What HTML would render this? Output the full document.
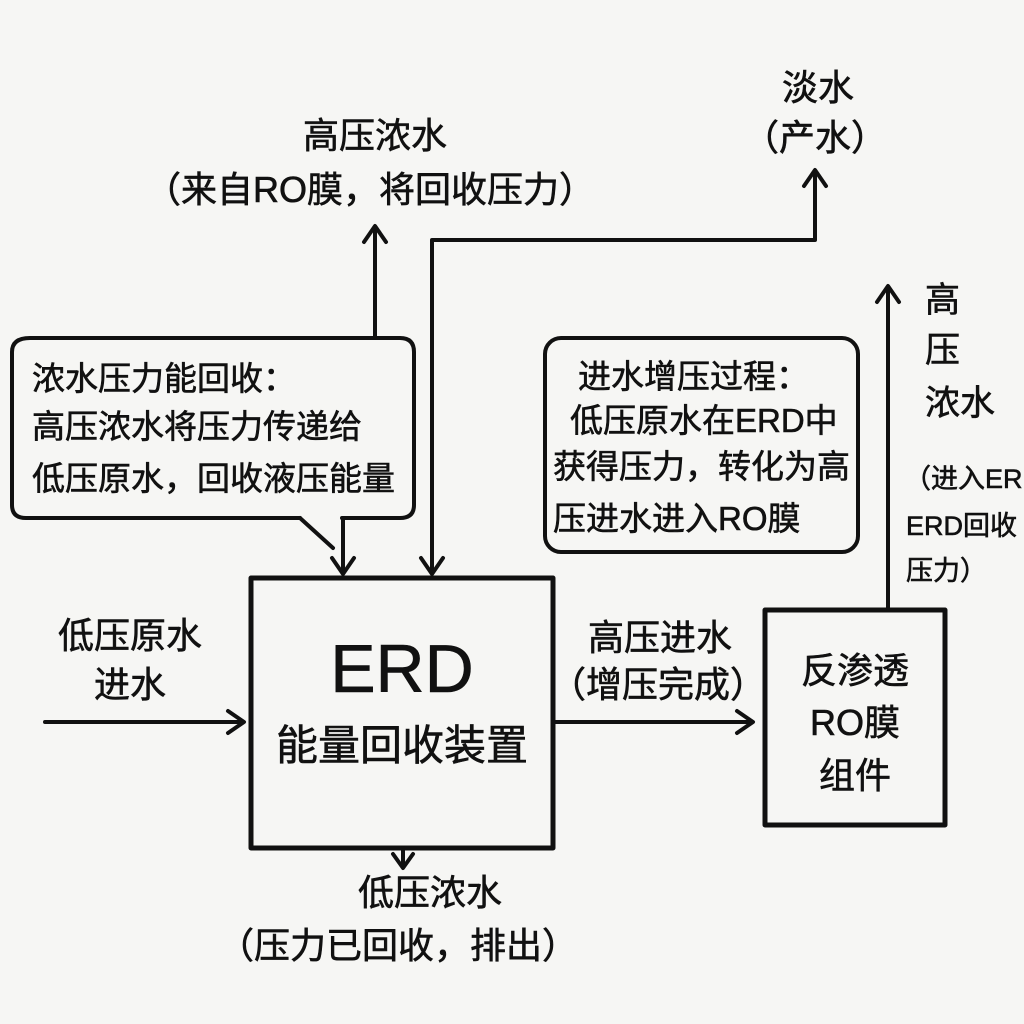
<!DOCTYPE html>
<html><head><meta charset="utf-8"><style>
html,body{margin:0;padding:0;background:#f6f6f4;}
svg{display:block}
text{font-family:"Liberation Sans","Noto Sans CJK SC",sans-serif;fill:#111;stroke:#111;stroke-width:0.6;}
</style></head><body>
<svg width="1024" height="1024" viewBox="0 0 1024 1024" xmlns="http://www.w3.org/2000/svg">
<rect width="1024" height="1024" fill="#f6f6f4"/>
<g stroke="#111" stroke-width="4" fill="none" stroke-linecap="round" stroke-linejoin="round">
<line x1="375" y1="338" x2="375" y2="228"/><polyline points="364,242 375,226 386,242"/>
<polyline points="432,572 432,240 815,240 815,172"/><polyline points="804,186 815,170 826,186"/>
<polyline points="421,558 432,574 443,558"/>
<path d="M30,338 H400 Q414,338 414,352 V505 Q414,518 400,518 H342 M300,518 H26 Q12,518 12,505 V352 Q12,338 30,338"/>
<line x1="300" y1="518" x2="333" y2="548"/>
<line x1="343" y1="518" x2="343" y2="572"/><polyline points="332,558 343,574 354,558"/>
<rect x="545" y="338" width="313" height="214" rx="16"/>
<rect x="251" y="578" width="302" height="270" stroke-width="5"/>
<line x1="45" y1="722" x2="243" y2="722"/><polyline points="228,711 244,722 228,733"/>
<line x1="553" y1="722" x2="752" y2="722"/><polyline points="737,711 753,722 737,733"/>
<rect x="765" y="610" width="180" height="215" stroke-width="5"/>
<line x1="888" y1="608" x2="888" y2="288"/><polyline points="877,302 888,286 899,302"/>
<line x1="403" y1="848" x2="403" y2="866"/><polyline points="393,854 403,868 413,854"/>
</g>
<g font-size="36" text-anchor="middle">
<text x="375" y="148">高压浓水</text>
<text x="370" y="202">（来自RO膜，将回收压力）</text>
<text x="818" y="100">淡水</text>
<text x="815" y="150">（产水）</text>
<text x="130" y="648">低压原水</text>
<text x="130" y="697">进水</text>
<text x="660" y="650">高压进水</text>
<text x="658" y="697">（增压完成）</text>
<text x="855" y="683">反渗透</text>
<text x="855" y="735">RO膜</text>
<text x="855" y="788">组件</text>
<text x="430" y="905">低压浓水</text>
<text x="398" y="958">（压力已回收，排出）</text>
</g>
<g font-size="33">
<text x="32" y="390">浓水压力能回收：</text>
<text x="32" y="438">高压浓水将压力传递给</text>
<text x="32" y="490">低压原水，回收液压能量</text>
<text x="578" y="388">进水增压过程：</text>
<text x="570" y="432">低压原水在ERD中</text>
<text x="553" y="478">获得压力，转化为高</text>
<text x="553" y="530">压进水进入RO膜</text>
</g>
<g font-size="35">
<text x="925" y="312">高</text>
<text x="925" y="362">压</text>
<text x="925" y="415">浓水</text>
</g>
<g font-size="27">
<text x="904" y="488">（进入ER</text>
<text x="906" y="535">ERD回收</text>
<text x="906" y="580">压力）</text>
</g>
<text x="402" y="692" font-size="68" text-anchor="middle">ERD</text>
<text x="402" y="760" font-size="42" text-anchor="middle">能量回收装置</text>
</svg>
</body></html>
